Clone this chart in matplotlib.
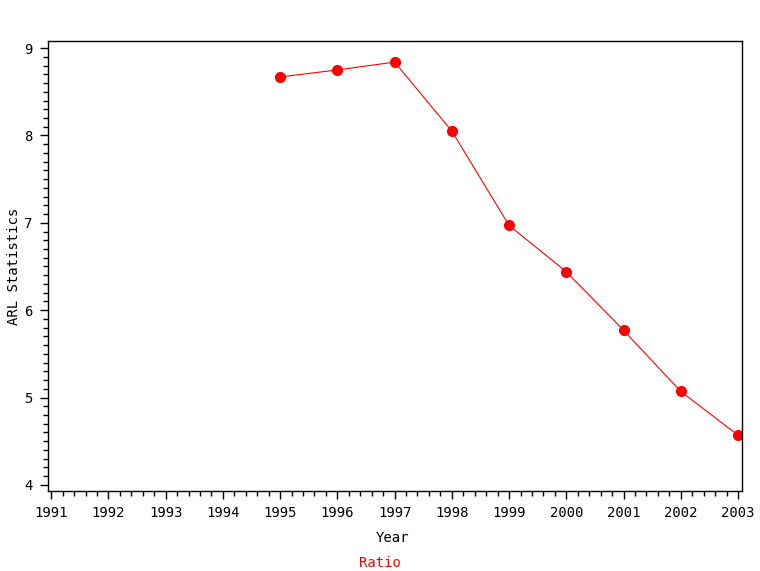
import numpy as np
import matplotlib.pyplot as plt
from matplotlib.ticker import MultipleLocator

years = [1995, 1996, 1997, 1998, 1999, 2000, 2001, 2002, 2003]
arl = [8.67, 8.75, 8.84, 8.05, 6.97, 6.44, 5.77, 5.07, 4.57]
xticks = list(range(1991, 2004))
yticks = [4, 5, 6, 7, 8, 9]

plt.rcParams['font.family'] = ['DejaVu Sans Mono']

fig = plt.figure(figsize=(7.6, 5.71), dpi=100)
ax = fig.add_axes([47.5 / 760, 1 - 491 / 571, (742 - 47.5) / 760, (491 - 40.5) / 571])

ax.plot(years, arl, color='red', lw=0.8, marker='o', markersize=7)

ax.set_xlim(1990.935, 2003.07)
ax.set_ylim(3.93, 9.087)
ax.set_xticks(xticks)
ax.set_yticks(yticks)
ax.xaxis.set_minor_locator(MultipleLocator(0.2))
ax.yaxis.set_minor_locator(MultipleLocator(0.1))
ax.tick_params(which='major', direction='out', length=6, width=1, labelsize=10, pad=5)
ax.tick_params(which='minor', direction='out', length=3.5, width=1)
for s in ax.spines.values():
    s.set_linewidth(1)

fig.text(392 / 760, 1 - 538 / 571, 'Year', fontsize=10, ha='center', va='center')
fig.text(14 / 760, 1 - 266 / 571, 'ARL Statistics', fontsize=10, rotation=90,
         ha='center', va='center')
fig.text(380 / 760, 1 - 563 / 571, 'Ratio', color='red', fontsize=10, ha='center', va='center')

plt.savefig('out.png', dpi=100)
